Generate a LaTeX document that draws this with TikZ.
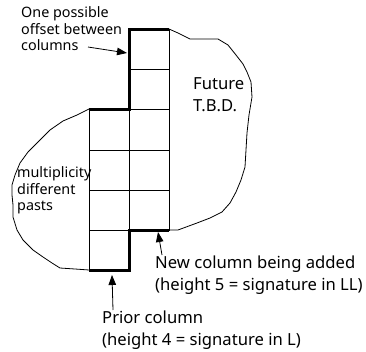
\documentclass[tikz,border=0pt]{standalone}
\usepackage{fontspec}
\setmainfont{Noto Sans}
\usetikzlibrary{arrows.meta}
\tikzset{
  note/.style={align=left, inner sep=0pt, font=\fontsize{14.4}{17}\selectfont},
  bignote/.style={align=left, inner sep=0pt, font=\fontsize{16.7}{22}\selectfont},
  cellline/.style={line width=0.9bp},
  edge/.style={line width=3bp, line join=miter},
  blob/.style={line width=0.8bp},
  pointer/.style={line width=0.8bp, -{Triangle[length=10bp,width=7.5bp]}}
}
\begin{document}
\begin{tikzpicture}[x=1bp, y=-1bp]
  \useasboundingbox (0,0) rectangle (366,352);
  % corners of the two columns
  \coordinate (pl) at (89,270);   % prior column, bottom left
  \coordinate (pm) at (129,270);
  \coordinate (nm) at (129,230);  % new column, bottom left
  \coordinate (nr) at (169,230);
  \coordinate (tl) at (89,109);   % prior column, top left
  \coordinate (tm) at (129,109);
  \coordinate (um) at (129,29);   % new column, top left
  \coordinate (ur) at (169,29);
  % cells
  \draw[cellline] (pl) rectangle (tm);
  \draw[cellline] (um) rectangle (nr);
  \draw[cellline] (89,150) -- (169,150);
  \draw[cellline] (89,190) -- (169,190);
  \draw[cellline] (89,230) -- (129,230);
  \draw[cellline] (129,69) -- (169,69);
  \draw[cellline] (129,109) -- (169,109);
  % thick offsets
  \draw[edge] (tl) -- (tm) -- (um) -- (ur);
  \draw[edge] (pl) -- (pm) -- (nm) -- (nr);
  % the future
  \draw[blob] (ur) -- (178,33) -- (190,39) -- (205,39) -- (218,39) -- (228,45)
    -- (236,55) -- (243,64) -- (247,72) -- (251,82) -- (252,97) -- (249,115)
    -- (247,133) -- (246,150) -- (245,167) -- (241,180) -- (236,192)
    -- (230,203) -- (222,212) -- (210,218) -- (197,223) -- (178,230) -- (nr);
  % the pasts
  \draw[blob] (tl) -- (77,115) -- (63,121) -- (50,130) -- (38,142) -- (28,152)
    -- (20,163) -- (15,175) -- (12,185) -- (12,195) -- (13,205) -- (13,217)
    -- (17,230) -- (23,240) -- (33,250) -- (43,257) -- (52,263) -- (60,268)
    -- (75,269) -- (pl);
  % labels
  \node[note, anchor=north west] (offset) at (21,6)
    {One possible\\offset between\\columns};
  \node[bignote, anchor=north west] (future) at (193,77) {Future\\T.B.D.};
  \node[note, anchor=north west] (pasts) at (17,166) {multiplicity\\different\\pasts};
  \node[bignote, anchor=north west] (newcol) at (155,256)
    {New column being added\\(height 5 = signature in LL)};
  \node[bignote, anchor=north west] (prior) at (102,311)
    {Prior column\\(height 4 = signature in L)};
  % pointers
  \draw[pointer] (88,47) -- (127,53);
  \draw[pointer] (162,255) -- (158,232);
  \draw[pointer] (113,310) -- (112,275);
\end{tikzpicture}
\end{document}
